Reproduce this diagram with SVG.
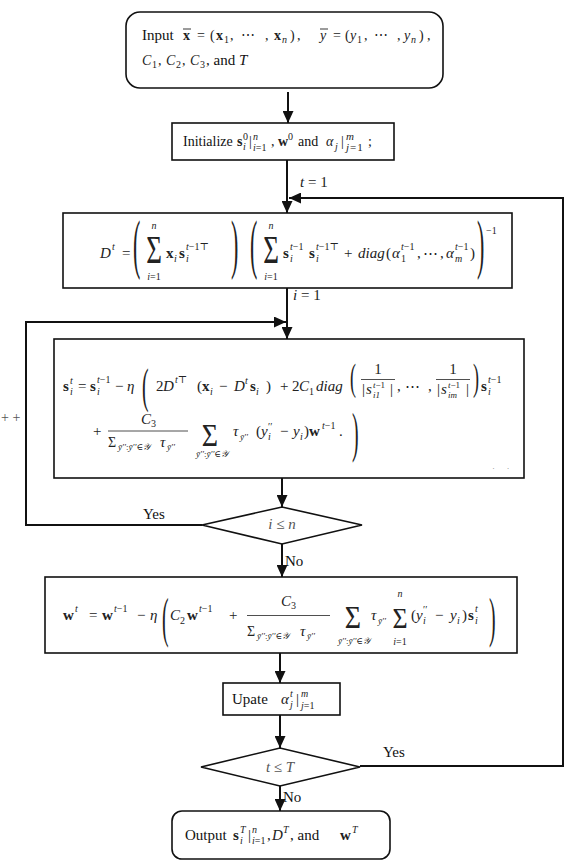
<svg xmlns="http://www.w3.org/2000/svg" width="581" height="865" viewBox="0 0 581 865">
<style>
.t{font-family:"Liberation Serif","DejaVu Serif",serif;font-size:15px;fill:#111}
.m{fill:#222}
.f14{font-size:14px}
.s{font-size:10px}
.s11{font-size:11px}
.ss{font-size:9px}
.i{font-style:italic}
.b{font-weight:bold}
.box{fill:#fff;stroke:#111;stroke-width:1.6}
.wire{fill:none;stroke:#111;stroke-width:2}
.bar{stroke:#222;stroke-width:0.8}
.ov{stroke:#222;stroke-width:0.9}
.g{fill:#555}
.p44{font-size:44px}
.p36{font-size:36px}
.s30{font-size:30px}
.s28{font-size:28px}
.s26{font-size:26px}
</style>
<defs>
<marker id="ah" markerUnits="userSpaceOnUse" markerWidth="12" markerHeight="11" refX="12" refY="5.5" orient="auto">
<path d="M0,0 L12,5.5 L0,11 z" fill="#111"/>
</marker>
<clipPath id="clipEq"><rect x="54" y="340" width="470" height="129"/></clipPath>
</defs>
<rect width="581" height="865" fill="#fff"/>

<g id="connectors">
<path class="wire" d="M288 92 V123" marker-end="url(#ah)"/>
<path class="wire" d="M287 160 V213" marker-end="url(#ah)"/>
<path class="wire" d="M360 766 H563 V198 H289" marker-end="url(#ah)"/>
<path class="wire" d="M287 288 V339" marker-end="url(#ah)"/>
<path class="wire" d="M202 525 H26 V322 H286" marker-end="url(#ah)"/>
<path class="wire" d="M282 478 V507" marker-end="url(#ah)"/>
<path class="wire" d="M282 544 V577" marker-end="url(#ah)"/>
<path class="wire" d="M280 653 V683" marker-end="url(#ah)"/>
<path class="wire" d="M280 715 V748" marker-end="url(#ah)"/>
<path class="wire" d="M280 786 V811" marker-end="url(#ah)"/>
<text class="t m" x="300" y="187"><tspan class="i">t</tspan> = 1</text>
<text class="t m" x="293" y="300"><tspan class="i">i</tspan> = 1</text>
<text class="t" x="143" y="519">Yes</text>
<text class="t" x="285" y="566">No</text>
<text class="t" x="383" y="757">Yes</text>
<text class="t" x="283" y="802">No</text>
<text class="t g f14" x="1" y="422">+ +</text>
</g>

<g id="input">
<rect class="box" x="126" y="12" width="317" height="76" rx="14"/>
<text class="t" x="142" y="40">Input</text>
<text class="t m f14">
<tspan x="183" y="40" class="b">x</tspan><tspan x="197" y="40">=</tspan><tspan x="210" y="40">(</tspan><tspan x="216" y="40" class="b">x</tspan><tspan x="224" y="43" class="s">1</tspan><tspan x="230" y="40">,</tspan><tspan x="241" y="40">⋯</tspan><tspan x="265" y="40">,</tspan><tspan x="274" y="40" class="b">x</tspan><tspan x="282" y="43" class="s i">n</tspan><tspan x="290" y="40">)</tspan><tspan x="297" y="40">,</tspan>
<tspan x="320" y="40" class="i">y</tspan><tspan x="333" y="40">=</tspan><tspan x="345" y="40">(</tspan><tspan x="350" y="40" class="i">y</tspan><tspan x="357" y="43" class="s">1</tspan><tspan x="364" y="40">,</tspan><tspan x="374" y="40">⋯</tspan><tspan x="397" y="40">,</tspan><tspan x="404" y="40" class="i">y</tspan><tspan x="411" y="43" class="s i">n</tspan><tspan x="419" y="40">)</tspan><tspan x="427" y="40">,</tspan>
</text>
<line class="ov" x1="183" y1="29" x2="191" y2="29"/>
<line class="ov" x1="320" y1="29" x2="328" y2="29"/>
<text class="t m f14">
<tspan x="142" y="65" class="i">C</tspan><tspan x="152" y="68" class="s">1</tspan><tspan x="158" y="65">,</tspan><tspan x="166" y="65" class="i">C</tspan><tspan x="176" y="68" class="s">2</tspan><tspan x="182" y="65">,</tspan><tspan x="190" y="65" class="i">C</tspan><tspan x="200" y="68" class="s">3</tspan>
</text>
<text class="t" x="206" y="65">, and <tspan class="i">T</tspan></text>
</g>

<g id="initialize">
<rect class="box" x="172" y="123" width="222" height="37"/>
<text class="t f14" x="183" y="146">Initialize</text>
<text class="t m f14">
<tspan x="237" y="146" class="b">s</tspan><tspan x="243" y="140" class="s">0</tspan><tspan x="243" y="150" class="s i">i</tspan><tspan x="249" y="146">|</tspan><tspan x="253" y="140" class="s i">n</tspan><tspan x="253" y="151" class="s"><tspan class="i">i</tspan>=1</tspan><tspan x="271" y="146">,</tspan>
<tspan x="278" y="146" class="b">w</tspan><tspan x="288" y="140" class="s">0</tspan>
<tspan x="326" y="146" class="i">α</tspan><tspan x="335" y="150" class="s i">j</tspan><tspan x="341" y="146">|</tspan><tspan x="346" y="140" class="s11 i">m</tspan><tspan x="346" y="151" class="s11" letter-spacing="1"><tspan class="i">j</tspan>=1</tspan><tspan x="368" y="146">;</tspan>
</text>
<text class="t f14" x="298" y="146">and</text>
</g>

<g id="dict-update">
<rect class="box" x="63" y="213" width="449" height="75"/>
<text class="t m">
<tspan x="100" y="258" class="i">D</tspan><tspan x="112" y="250" class="s i">t</tspan><tspan x="122" y="258">=</tspan>
<tspan x="166" y="258" class="b">x</tspan><tspan x="174" y="262" class="s i">i</tspan><tspan x="179" y="258" class="b">s</tspan><tspan x="186" y="250" class="s"><tspan class="i">t</tspan>−1⊤</tspan><tspan x="186" y="262" class="s i">i</tspan>
<tspan x="283" y="258" class="b">s</tspan><tspan x="290" y="250" class="s"><tspan class="i">t</tspan>−1</tspan><tspan x="290" y="262" class="s i">i</tspan><tspan x="309" y="258" class="b">s</tspan><tspan x="316" y="250" class="s"><tspan class="i">t</tspan>−1⊤</tspan><tspan x="316" y="262" class="s i">i</tspan>
<tspan x="344" y="258">+</tspan><tspan x="358" y="258" class="i">diag</tspan><tspan x="386" y="258">(</tspan><tspan x="392" y="258" class="i">α</tspan><tspan x="401" y="250" class="s"><tspan class="i">t</tspan>−1</tspan><tspan x="401" y="262" class="s">1</tspan><tspan x="417" y="258">,</tspan><tspan x="423" y="258">⋯</tspan><tspan x="440" y="258">,</tspan>
<tspan x="446" y="258" class="i">α</tspan><tspan x="455" y="250" class="s"><tspan class="i">t</tspan>−1</tspan><tspan x="455" y="262" class="s i">m</tspan><tspan x="470" y="258">)</tspan>
<tspan x="486" y="234" class="s">−1</tspan>
</text>
<text class="t m s i" text-anchor="middle" x="154" y="229">n</text>
<text class="t m s" text-anchor="middle" x="154" y="280"><tspan class="i">i</tspan>=1</text>
<text class="t m s i" text-anchor="middle" x="271" y="229">n</text>
<text class="t m s" text-anchor="middle" x="271" y="280"><tspan class="i">i</tspan>=1</text>
<text class="t m s30" text-anchor="middle" transform="translate(154,263) scale(0.9,1.35)">Σ</text>
<text class="t m s30" text-anchor="middle" transform="translate(271,263) scale(0.9,1.35)">Σ</text>
<text class="t m p44" transform="translate(133,266) scale(0.5,1.5)">(</text>
<text class="t m p44" transform="translate(231,266) scale(0.5,1.5)">)</text>
<text class="t m p44" transform="translate(250,266) scale(0.5,1.5)">(</text>
<text class="t m p44" transform="translate(477,266) scale(0.5,1.5)">)</text>
</g>

<g id="code-update">
<rect class="box" x="54" y="339" width="470" height="139"/>
<text class="t m">
<tspan x="63" y="391" class="b">s</tspan><tspan x="70" y="384" class="s i">t</tspan><tspan x="70" y="395" class="s i">i</tspan><tspan x="78" y="391">=</tspan>
<tspan x="90" y="391" class="b">s</tspan><tspan x="97" y="383" class="s"><tspan class="i">t</tspan>−1</tspan><tspan x="97" y="395" class="s i">i</tspan><tspan x="115" y="391">−</tspan><tspan x="127" y="391" class="i">η</tspan>
<tspan x="156" y="391">2</tspan><tspan x="163" y="391" class="i">D</tspan><tspan x="175" y="383" class="s"><tspan class="i">t</tspan>⊤</tspan>
<tspan x="197" y="391">(</tspan><tspan x="202" y="391" class="b">x</tspan><tspan x="210" y="395" class="s i">i</tspan><tspan x="219" y="391">−</tspan><tspan x="234" y="391" class="i">D</tspan><tspan x="245" y="384" class="s i">t</tspan><tspan x="250" y="391" class="b">s</tspan><tspan x="256" y="395" class="s i">i</tspan><tspan x="266" y="391">)</tspan>
<tspan x="280" y="391">+</tspan><tspan x="292" y="391">2</tspan><tspan x="299" y="391" class="i">C</tspan><tspan x="309" y="395" class="s">1</tspan><tspan x="316" y="391" class="i">diag</tspan>
<tspan x="397" y="391">,</tspan><tspan x="405" y="391">⋯</tspan><tspan x="428" y="391">,</tspan>
<tspan x="481" y="391" class="b">s</tspan><tspan x="488" y="383" class="s"><tspan class="i">t</tspan>−1</tspan><tspan x="488" y="395" class="s i">i</tspan>
</text>
<text class="t m" text-anchor="middle" x="378" y="374">1</text>
<line class="bar" x1="361" y1="379.5" x2="395" y2="379.5"/>
<text class="t m">
<tspan x="362" y="394">|</tspan><tspan x="366" y="394" class="i">s</tspan><tspan x="373" y="388" class="ss"><tspan class="i">t</tspan>−1</tspan><tspan x="373" y="398" class="ss i">i1</tspan><tspan x="390" y="394">|</tspan>
</text>
<text class="t m" text-anchor="middle" x="453" y="374">1</text>
<line class="bar" x1="436" y1="379.5" x2="470" y2="379.5"/>
<text class="t m">
<tspan x="437" y="394">|</tspan><tspan x="441" y="394" class="i">s</tspan><tspan x="448" y="388" class="ss"><tspan class="i">t</tspan>−1</tspan><tspan x="448" y="398" class="ss i">im</tspan><tspan x="466" y="394">|</tspan>
</text>
<text class="t m p44" transform="translate(142,401.6) scale(0.45,1.1)">(</text>
<text class="t m p36" transform="translate(350,390) scale(0.5,1.08)">(</text>
<text class="t m p36" transform="translate(473,390) scale(0.5,1.08)">)</text>
<text class="t m">
<tspan x="93" y="436">+</tspan>
<tspan x="141" y="424" class="i">C</tspan><tspan x="151" y="427" class="s">3</tspan>
<tspan x="108" y="447" class="f14">Σ</tspan><tspan x="118" y="450" class="ss"><tspan class="i">ȳ′′</tspan>:<tspan class="i">ȳ′′</tspan>∈<tspan class="i">𝒴</tspan></tspan><tspan x="160" y="447" class="i">τ</tspan><tspan x="167" y="450" class="ss i">ȳ′′</tspan>
<tspan x="233" y="436" class="i">τ</tspan><tspan x="240" y="440" class="ss i">ȳ′′</tspan>
<tspan x="256" y="436">(</tspan><tspan x="261" y="436" class="i">y</tspan><tspan x="268" y="430" class="s">′′</tspan><tspan x="268" y="440" class="s i">i</tspan><tspan x="280" y="436">−</tspan><tspan x="293" y="436" class="i">y</tspan><tspan x="300" y="440" class="s i">i</tspan><tspan x="304" y="436">)</tspan>
<tspan x="309" y="436" class="b">w</tspan><tspan x="322" y="429" class="s"><tspan class="i">t</tspan>−1</tspan><tspan x="339" y="436">.</tspan>
</text>
<line class="bar" x1="108" y1="431" x2="188" y2="431"/>
<text class="t m s28" text-anchor="middle" transform="translate(210,446) scale(1,1.1)">Σ</text>
<text class="t m ss" text-anchor="middle" x="212" y="457"><tspan class="i">ȳ′′</tspan>:<tspan class="i">ȳ′′</tspan>∈<tspan class="i">𝒴</tspan></text>
<text class="t m p44" transform="translate(352,451) scale(0.45,1.25)">)</text>
<text class="t m" style="font-size:13px" clip-path="url(#clipEq)" x="490" y="477">(20)</text>
</g>

<g id="cond-i">
<polygon class="box" points="202,525 282,507 362,525 282,544"/>
<text class="t g" text-anchor="middle" x="282" y="529"><tspan class="i">i</tspan> ≤ <tspan class="i">n</tspan></text>
</g>

<g id="w-update">
<rect class="box" x="45" y="577" width="472" height="76"/>
<text class="t m">
<tspan x="63" y="620" class="b">w</tspan><tspan x="75" y="612" class="s i">t</tspan><tspan x="89" y="620">=</tspan>
<tspan x="102" y="620" class="b">w</tspan><tspan x="114" y="612" class="s"><tspan class="i">t</tspan>−1</tspan><tspan x="137" y="620">−</tspan><tspan x="150" y="620" class="i">η</tspan>
<tspan x="170" y="620" class="i">C</tspan><tspan x="180" y="624" class="s">2</tspan><tspan x="187" y="620" class="b">w</tspan><tspan x="199" y="612" class="s"><tspan class="i">t</tspan>−1</tspan><tspan x="229" y="620">+</tspan>
<tspan x="281" y="606" class="i">C</tspan><tspan x="291" y="609" class="s">3</tspan>
<tspan x="247" y="636" class="f14">Σ</tspan><tspan x="257" y="639" class="ss"><tspan class="i">ȳ′′</tspan>:<tspan class="i">ȳ′′</tspan>∈<tspan class="i">𝒴</tspan></tspan><tspan x="300" y="636" class="i">τ</tspan><tspan x="307" y="639" class="ss i">ȳ′′</tspan>
<tspan x="371" y="620" class="i">τ</tspan><tspan x="378" y="624" class="ss i">ȳ′′</tspan>
<tspan x="411" y="620">(</tspan><tspan x="416" y="620" class="i">y</tspan><tspan x="423" y="613" class="s">′′</tspan><tspan x="423" y="624" class="s i">i</tspan><tspan x="435" y="620">−</tspan><tspan x="450" y="620" class="i">y</tspan><tspan x="457" y="624" class="s i">i</tspan><tspan x="462" y="620">)</tspan><tspan x="468" y="620" class="b">s</tspan><tspan x="475" y="612" class="s i">t</tspan><tspan x="475" y="624" class="s i">i</tspan>
</text>
<line class="bar" x1="247" y1="615.5" x2="330" y2="615.5"/>
<text class="t m s28" text-anchor="middle" transform="translate(353,628) scale(1,1.15)">Σ</text>
<text class="t m ss" text-anchor="middle" x="354" y="644"><tspan class="i">ȳ′′</tspan>:<tspan class="i">ȳ′′</tspan>∈<tspan class="i">𝒴</tspan></text>
<text class="t m s26" text-anchor="middle" transform="translate(400,628) scale(1,1.15)">Σ</text>
<text class="t m s i" text-anchor="middle" x="400" y="597">n</text>
<text class="t m s" text-anchor="middle" x="400" y="645"><tspan class="i">i</tspan>=1</text>
<text class="t m p44" transform="translate(162,636) scale(0.45,1.27)">(</text>
<text class="t m p44" transform="translate(489,636) scale(0.45,1.27)">)</text>
</g>

<g id="alpha-update">
<rect class="box" x="223" y="683" width="117" height="32"/>
<text class="t" x="232" y="704">Upate</text>
<text class="t m">
<tspan x="281" y="704" class="i">α</tspan><tspan x="290" y="697" class="s i">t</tspan><tspan x="290" y="708" class="s i">j</tspan><tspan x="296" y="704">|</tspan><tspan x="301" y="697" class="s i">m</tspan><tspan x="301" y="709" class="s"><tspan class="i">j</tspan>=1</tspan>
</text>
</g>

<g id="cond-t">
<polygon class="box" points="201,767 280,748 360,767 280,786"/>
<text class="t g" text-anchor="middle" x="280" y="772"><tspan class="i">t</tspan> ≤ <tspan class="i">T</tspan></text>
</g>

<g id="output">
<rect class="box" x="172" y="811" width="218" height="48" rx="10"/>
<text class="t" x="185" y="840">Output</text>
<text class="t m">
<tspan x="233" y="840" class="b">s</tspan><tspan x="240" y="833" class="s i">T</tspan><tspan x="240" y="844" class="s i">i</tspan><tspan x="248" y="840">|</tspan><tspan x="252" y="833" class="s i">n</tspan><tspan x="252" y="844" class="s"><tspan class="i">i</tspan>=1</tspan><tspan x="267" y="840">,</tspan><tspan x="272" y="840" class="i">D</tspan><tspan x="283" y="833" class="s i">T</tspan>
<tspan x="340" y="840" class="b">w</tspan><tspan x="352" y="833" class="s i">T</tspan>
</text>
<text class="t" x="290" y="840">, and</text>
</g>
</svg>
